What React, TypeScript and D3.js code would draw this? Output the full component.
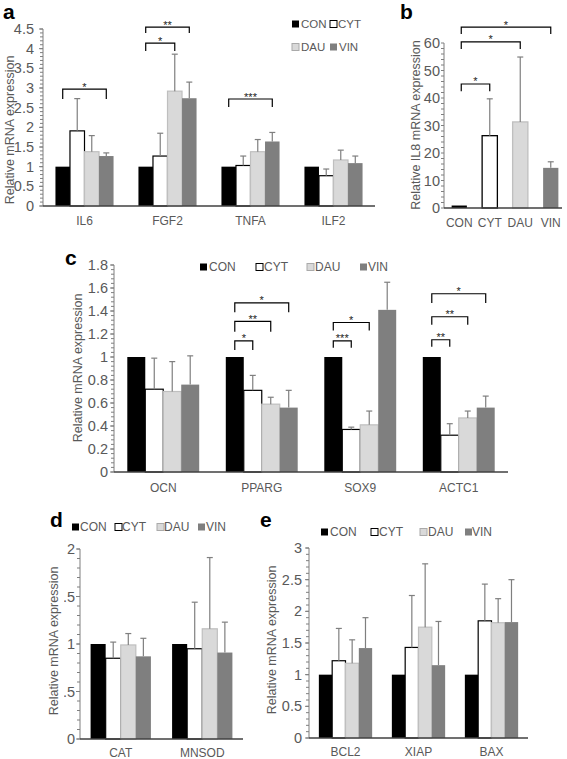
import React from "react";
import * as d3 from "d3";

// ---------- data ----------
const series = ["CON", "CYT", "DAU", "VIN"];
const seriesFill = ["#000000", "#ffffff", "#d9d9d9", "#7f7f7f"];
const seriesStroke = ["none", "#000000", "#bfbfbf", "none"];

const genesA = ["IL6", "FGF2", "TNFA", "ILF2"];
const meanA = [
  [1, 1.91, 1.38, 1.27],
  [1, 1.27, 2.92, 2.74],
  [1, 1.03, 1.38, 1.64],
  [1, 0.77, 1.17, 1.09],
];
const sdA = [
  [0, 0.82, 0.41, 0.08],
  [0, 0.58, 0.94, 0.41],
  [0, 0.24, 0.31, 0.23],
  [0, 0.17, 0.25, 0.18],
];
const bracketsA = [
  { cat: 0, from: 0, to: 3, top: 2.97, bottom: 2.72, label: "*" },
  { cat: 1, from: 0, to: 2, top: 4.14, bottom: 3.94, label: "*" },
  { cat: 1, from: 0, to: 3, top: 4.55, bottom: 4.4, label: "**" },
  { cat: 2, from: 0, to: 3, top: 2.72, bottom: 2.52, label: "***" },
];

const catsB = ["CON", "CYT", "DAU", "VIN"];
const meanB = [0.9, 26.3, 31.3, 14.6];
const sdB = [0, 13.4, 23.6, 2.2];
const bracketsB = [
  { from: 0, to: 3, top: 65.8, bottom: 63.3, label: "*" },
  { from: 0, to: 2, top: 60.4, bottom: 57.8, label: "*" },
  { from: 0, to: 1, top: 45.1, bottom: 42.5, label: "*" },
];

const genesC = ["OCN", "PPARG", "SOX9", "ACTC1"];
const meanC = [
  [1, 0.72, 0.7, 0.76],
  [1, 0.71, 0.59, 0.56],
  [1, 0.37, 0.41, 1.41],
  [1, 0.32, 0.47, 0.56],
];
const sdC = [
  [0, 0.27, 0.26, 0.25],
  [0, 0.13, 0.06, 0.15],
  [0, 0.02, 0.12, 0.24],
  [0, 0.1, 0.06, 0.1],
];
const bracketsC = [
  { cat: 1, from: 0, to: 3, top: 1.47, bottom: 1.39, label: "*" },
  { cat: 1, from: 0, to: 2, top: 1.31, bottom: 1.22, label: "**" },
  { cat: 1, from: 0, to: 1, top: 1.14, bottom: 1.06, label: "*" },
  { cat: 2, from: 0, to: 2, top: 1.3, bottom: 1.23, label: "*" },
  { cat: 2, from: 0, to: 1, top: 1.14, bottom: 1.08, label: "***" },
  { cat: 3, from: 0, to: 3, top: 1.55, bottom: 1.47, label: "*" },
  { cat: 3, from: 0, to: 2, top: 1.35, bottom: 1.28, label: "**" },
  { cat: 3, from: 0, to: 1, top: 1.15, bottom: 1.09, label: "**" },
];

const genesD = ["CAT", "MNSOD"];
const meanD = [
  [1, 0.85, 0.99, 0.87],
  [1, 0.95, 1.16, 0.91],
];
const sdD = [
  [0, 0.17, 0.12, 0.19],
  [0, 0.49, 0.75, 0.32],
];

const genesE = ["BCL2", "XIAP", "BAX"];
const meanE = [
  [1, 1.22, 1.18, 1.42],
  [1, 1.43, 1.75, 1.15],
  [1, 1.85, 1.82, 1.83],
];
const sdE = [
  [0, 0.51, 0.37, 0.48],
  [0, 0.82, 1.0, 0.69],
  [0, 0.58, 0.38, 0.67],
];

// ---------- drawing ----------
const FONT = "'Liberation Sans', Arial, Helvetica, sans-serif";
const GRAY = "#595959";
const TICK_FS = 14.5;

type Bracket = { cat?: number; from: number; to: number; top: number; bottom: number; label: string };

type PanelProps = {
  cats: string[];
  means: number[][];
  sds: number[][];
  brackets: Bracket[];
  x0: number; x1: number; axisEnd?: number;
  y0: number; yTop: number; yMax: number;
  major: number; minor: number;
  groupRatio: number;
  labelGap: number;
  catLabelY: number;
  title: string; titleX: number; titleY: number;
  titleBg?: { x: number; w: number; y: number; h: number };
  letter: string; letterX: number; letterY: number;
};

function Panel(p: PanelProps) {
  const x = d3.scaleBand<string>().domain(p.cats).range([p.x0, p.x1]).paddingInner(0).paddingOuter(0);
  const groupW = x.bandwidth() * p.groupRatio;
  const inner = d3.scaleBand<string>().domain(series).range([0, groupW]).padding(0);
  const y = d3.scaleLinear().domain([0, p.yMax]).range([p.y0, p.yTop]);
  const majors = d3.range(0, p.yMax + 1e-9, p.major);
  const minors = d3.range(0, p.yMax + 1e-9, p.minor);
  const barX = (ci: number, si: number) =>
    (x(p.cats[ci]) as number) + (x.bandwidth() - groupW) / 2 + (inner(series[si]) as number);
  const bw = inner.bandwidth();
  const fmt = (v: number) => String(+v.toFixed(2));

  return (
    <g>
      {p.cats.map((c, ci) =>
        series.map((s, si) => {
          const v = p.means[ci][si];
          const bx = barX(ci, si);
          return (
            <rect
              key={c + s}
              x={bx}
              y={y(v)}
              width={bw}
              height={p.y0 - y(v)}
              fill={seriesFill[si]}
              stroke={seriesStroke[si]}
              strokeWidth={1.2}
            />
          );
        })
      )}
      {p.cats.map((c, ci) =>
        series.map((s, si) => {
          const v = p.means[ci][si];
          const e = p.sds[ci][si];
          if (!e) return null;
          const cx = barX(ci, si) + bw / 2;
          return (
            <g key={"e" + c + s} stroke="#7f7f7f" strokeWidth={1.2}>
              <line x1={cx} x2={cx} y1={y(v)} y2={y(v + e)} />
              <line x1={cx - 3} x2={cx + 3} y1={y(v + e)} y2={y(v + e)} />
            </g>
          );
        })
      )}
      <line x1={p.x0} x2={p.x0} y1={p.y0} y2={y(p.yMax)} stroke="#7f7f7f" strokeWidth={1} />
      {minors.map((t, i) => (
        <line key={"mi" + i} x1={p.x0 - 3} x2={p.x0} y1={y(t)} y2={y(t)} stroke="#7f7f7f" strokeWidth={1} />
      ))}
      {majors.map((t, i) => (
        <line key={"ma" + i} x1={p.x0 - 4} x2={p.x0} y1={y(t)} y2={y(t)} stroke="#7f7f7f" strokeWidth={1} />
      ))}
      {majors.map((t, i) => (
        <text
          key={"tl" + i}
          x={p.x0 - p.labelGap}
          y={y(t)}
          dy="0.35em"
          textAnchor="end"
          fontSize={TICK_FS}
          fill={GRAY}
          fontFamily={FONT}
        >
          {fmt(t)}
        </text>
      ))}
      <line x1={p.x0} x2={p.axisEnd ?? p.x1} y1={p.y0} y2={p.y0} stroke="#404040" strokeWidth={1.3} />
      {p.cats.map((c) => (
        <text
          key={"cl" + c}
          x={(x(c) as number) + x.bandwidth() / 2}
          y={p.catLabelY}
          textAnchor="middle"
          fontSize={12}
          fill={GRAY}
          fontFamily={FONT}
        >
          {c}
        </text>
      ))}
      {p.brackets.map((b, i) => {
        const ci = b.cat ?? 0;
        const xa = barX(ci, b.from) + bw / 2;
        const xb = barX(ci, b.to) + bw / 2;
        const yt = y(b.top);
        const yb = y(b.bottom);
        return (
          <g key={"br" + i}>
            <path d={`M${xa},${yb}V${yt}H${xb}V${yb}`} fill="none" stroke="#000" strokeWidth={1.2} />
            <text
              x={(xa + xb) / 2}
              y={yt + 1.5}
              textAnchor="middle"
              fontSize={11}
              fill="#222"
              fontFamily={FONT}
            >
              {b.label}
            </text>
          </g>
        );
      })}
      {p.titleBg && (
        <rect x={p.titleBg.x} y={p.titleBg.y} width={p.titleBg.w} height={p.titleBg.h} fill="#fff" />
      )}
      <text
        transform={`translate(${p.titleX},${p.titleY}) rotate(-90)`}
        textAnchor="middle"
        dy="0.35em"
        fontSize={12.5}
        fill={GRAY}
        fontFamily={FONT}
      >
        {p.title}
      </text>
      <text x={p.letterX} y={p.letterY} fontSize={21} fontWeight="bold" fill="#000" fontFamily={FONT}>
        {p.letter}
      </text>
    </g>
  );
}

function Legend({ items, fs = 12 }: { items: { si: number; mx: number; tx: number; y: number }[]; fs?: number }) {
  return (
    <g>
      {items.map((it) => (
        <g key={"lg" + it.si + it.y}>
          <rect
            x={it.mx}
            y={it.y - 3.5}
            width={7}
            height={7}
            fill={seriesFill[it.si]}
            stroke={it.si === 1 ? "#000" : it.si === 2 ? "#aaaaaa" : "none"}
            strokeWidth={1}
          />
          <text x={it.tx} y={it.y} dy="0.35em" fontSize={fs} fill={GRAY} fontFamily={FONT}>
            {series[it.si]}
          </text>
        </g>
      ))}
    </g>
  );
}

function BPanel() {
  const x = d3.scaleBand<string>().domain(catsB).range([444, 566]).padding(0);
  const y = d3.scaleLinear().domain([0, 60]).range([208, 43]);
  const bw = x.bandwidth() * 0.5;
  const cx = (i: number) => (x(catsB[i]) as number) + x.bandwidth() / 2;
  const majors = d3.range(0, 60.001, 10);
  const minors = d3.range(0, 60.001, 2);
  return (
    <g>
      {catsB.map((c, i) => {
        const v = meanB[i];
        return (
          <rect
            key={"b" + c}
            x={cx(i) - bw / 2}
            y={y(v)}
            width={bw}
            height={208 - y(v)}
            fill={seriesFill[i]}
            stroke={seriesStroke[i]}
            strokeWidth={1.3}
          />
        );
      })}
      {catsB.map((c, i) => {
        const v = meanB[i];
        const e = sdB[i];
        if (!e) return null;
        return (
          <g key={"be" + c} stroke="#7f7f7f" strokeWidth={1.2}>
            <line x1={cx(i)} x2={cx(i)} y1={y(v)} y2={y(v + e)} />
            <line x1={cx(i) - 3} x2={cx(i) + 3} y1={y(v + e)} y2={y(v + e)} />
          </g>
        );
      })}
      <line x1={444} x2={444} y1={208} y2={y(60)} stroke="#7f7f7f" />
      {minors.map((t, i) => (
        <line key={"bm" + i} x1={441} x2={444} y1={y(t)} y2={y(t)} stroke="#7f7f7f" />
      ))}
      {majors.map((t, i) => (
        <text
          key={"bt" + i}
          x={440}
          y={y(t)}
          dy="0.35em"
          textAnchor="end"
          fontSize={TICK_FS}
          fill={GRAY}
          fontFamily={FONT}
        >
          {t}
        </text>
      ))}
      <line x1={444} x2={562} y1={208} y2={208} stroke="#404040" strokeWidth={1.3} />
      {catsB.map((c, i) => (
        <text
          key={"bl" + c}
          x={cx(i)}
          y={227}
          textAnchor="middle"
          fontSize={12}
          fill={GRAY}
          fontFamily={FONT}
        >
          {c}
        </text>
      ))}
      {bracketsB.map((b, i) => {
        const xa = cx(b.from) + 2;
        const xb = cx(b.to);
        const yt = y(b.top);
        const yb = y(b.bottom);
        return (
          <g key={"bb" + i}>
            <path d={`M${xa},${yb}V${yt}H${xb}V${yb}`} fill="none" stroke="#000" strokeWidth={1.2} />
            <text x={(xa + xb) / 2} y={yt + 1.5} textAnchor="middle" fontSize={11} fill="#222" fontFamily={FONT}>
              {b.label}
            </text>
          </g>
        );
      })}
      <text
        transform="translate(416,125) rotate(-90)"
        textAnchor="middle"
        dy="0.35em"
        fontSize={12.5}
        fill={GRAY}
        fontFamily={FONT}
      >
        Relative IL8 mRNA expression
      </text>
      <text x={400} y={19} fontSize={21} fontWeight="bold" fill="#000" fontFamily={FONT}>
        b
      </text>
    </g>
  );
}

export default function App() {
  return (
    <svg width={567} height={759} style={{ position: "absolute", left: 0, top: 0, background: "#fff" }}>
      <rect width={567} height={759} fill="#fff" />
      <Panel
        cats={genesA}
        means={meanA}
        sds={sdA}
        brackets={bracketsA}
        x0={43} x1={375}
        y0={206} yTop={29} yMax={4.5}
        major={0.5} minor={0.1}
        groupRatio={0.7}
        labelGap={9}
        catLabelY={225}
        title="Relative mRNA expression" titleX={10} titleY={130}
        letter="a" letterX={3} letterY={19}
      />
      <Legend
        fs={11.5}
        items={[
          { si: 0, mx: 292, tx: 301, y: 24 },
          { si: 1, mx: 330, tx: 338, y: 24 },
          { si: 2, mx: 292, tx: 301, y: 47 },
          { si: 3, mx: 330, tx: 339, y: 47 },
        ]}
      />
      <BPanel />
      <Panel
        cats={genesC}
        means={meanC}
        sds={sdC}
        brackets={bracketsC}
        x0={114} x1={508}
        y0={472} yTop={265} yMax={1.8}
        major={0.2} minor={0.04}
        groupRatio={0.73}
        labelGap={6}
        catLabelY={492}
        title="Relative mRNA expression" titleX={78} titleY={368}
        letter="c" letterX={65} letterY={265}
      />
      <Legend
        items={[
          { si: 0, mx: 200, tx: 209, y: 267 },
          { si: 1, mx: 256, tx: 264, y: 267 },
          { si: 2, mx: 307, tx: 315, y: 267 },
          { si: 3, mx: 360, tx: 368, y: 267 },
        ]}
      />
      <Panel
        cats={genesD}
        means={meanD}
        sds={sdD}
        brackets={[]}
        x0={80} x1={243}
        y0={739} yTop={549} yMax={2}
        major={0.5} minor={0.1}
        groupRatio={0.74}
        labelGap={5}
        catLabelY={757}
        title="Relative mRNA expression" titleX={54} titleY={641}
        titleBg={{ x: 47, w: 17, y: 570, h: 142 }}
        letter="d" letterX={50} letterY={527}
      />
      <Legend
        items={[
          { si: 0, mx: 72, tx: 80, y: 527 },
          { si: 1, mx: 115, tx: 122, y: 527 },
          { si: 2, mx: 157, tx: 164, y: 527 },
          { si: 3, mx: 198, tx: 206, y: 527 },
        ]}
      />
      <Panel
        cats={genesE}
        means={meanE}
        sds={sdE}
        brackets={[]}
        x0={309} x1={528}
        y0={738} yTop={548} yMax={3}
        major={0.5} minor={0.1}
        groupRatio={0.73}
        labelGap={7}
        catLabelY={756}
        title="Relative mRNA expression" titleX={272} titleY={640}
        letter="e" letterX={260} letterY={527}
      />
      <Legend
        items={[
          { si: 0, mx: 321, tx: 330, y: 532 },
          { si: 1, mx: 371, tx: 379, y: 532 },
          { si: 2, mx: 420, tx: 428, y: 532 },
          { si: 3, mx: 465, tx: 472, y: 532 },
        ]}
      />
    </svg>
  );
}
